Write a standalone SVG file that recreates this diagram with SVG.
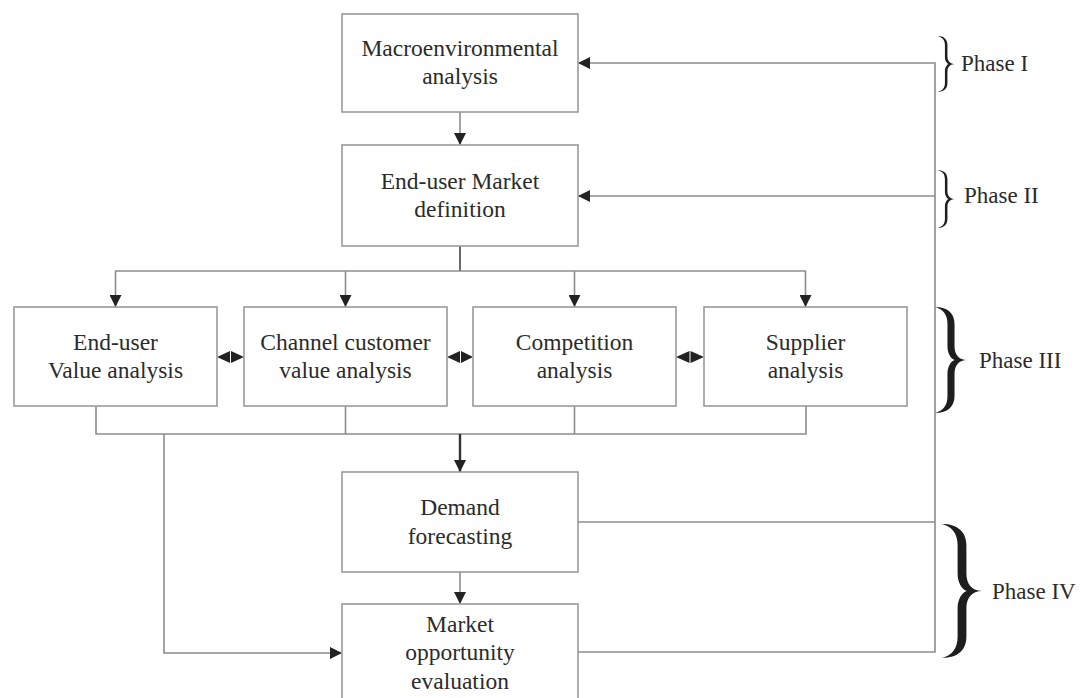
<svg xmlns="http://www.w3.org/2000/svg" xmlns:xlink="http://www.w3.org/1999/xlink" width="1082" height="698" viewBox="0 0 1082 698">
<style>
.box{fill:#fff;stroke:#9a9a9a;stroke-width:1.6}
.t{font-family:"Liberation Serif","Times New Roman",serif;font-size:23.5px;fill:#2b2b2b;text-anchor:middle}
.p{font-family:"Liberation Serif","Times New Roman",serif;font-size:23px;fill:#2b2b2b}
.ln{fill:none;stroke:#8c8c8c;stroke-width:1.6}
.dk{fill:none;stroke:#444;stroke-width:1.6}
.ah{fill:#222}
.br{fill:#1e1e1e}
</style>
<defs>
<marker id="arr" viewBox="0 0 12 12" refX="12" refY="6" markerWidth="12" markerHeight="12" markerUnits="userSpaceOnUse" orient="auto">
<path d="M0,0 L12,6 L0,12 Z" class="ah"/>
</marker>
<path id="brace" d="M0,0 C0.4,0 0.61,0.06 0.61,0.16 L0.61,0.37 C0.61,0.45 0.75,0.5 1,0.5 C0.75,0.5 0.61,0.55 0.61,0.63 L0.61,0.84 C0.61,0.94 0.4,1 0,1 C0.25,0.98 0.39,0.93 0.39,0.84 L0.39,0.63 C0.39,0.56 0.5,0.51 0.62,0.5 C0.5,0.49 0.39,0.44 0.39,0.37 L0.39,0.16 C0.39,0.07 0.25,0.02 0,0 Z"/>
<path id="braceThin" d="M0,0 C0.4,0 0.58,0.06 0.58,0.16 L0.58,0.37 C0.58,0.45 0.75,0.5 1,0.5 C0.75,0.5 0.58,0.55 0.58,0.63 L0.58,0.84 C0.58,0.94 0.4,1 0,1 C0.3,0.98 0.44,0.93 0.44,0.84 L0.44,0.63 C0.44,0.56 0.55,0.51 0.65,0.5 C0.55,0.49 0.44,0.44 0.44,0.37 L0.44,0.16 C0.44,0.07 0.3,0.02 0,0 Z"/>
</defs>

<g id="connectors">
  <line class="ln" x1="460" y1="112" x2="460" y2="145" marker-end="url(#arr)"/>
  <line class="dk" x1="460" y1="246" x2="460" y2="271"/>
  <line class="ln" x1="115" y1="271" x2="806" y2="271"/>
  <line class="ln" x1="115.5" y1="271" x2="115.5" y2="307" marker-end="url(#arr)"/>
  <line class="ln" x1="345.5" y1="271" x2="345.5" y2="307" marker-end="url(#arr)"/>
  <line class="ln" x1="574.5" y1="271" x2="574.5" y2="307" marker-end="url(#arr)"/>
  <line class="ln" x1="805.5" y1="271" x2="805.5" y2="307" marker-end="url(#arr)"/>
  <g class="ah">
    <path d="M217,357 L230,351 L230,363 Z"/><path d="M244,357 L231,351 L231,363 Z"/>
    <path d="M447,357 L460,351 L460,363 Z"/><path d="M473,357 L461,351 L461,363 Z"/>
    <path d="M676,357 L689.5,351 L689.5,363 Z"/><path d="M704,357 L690.5,351 L690.5,363 Z"/>
  </g>
  <polyline class="ln" points="96,406 96,434 806,434 806,406"/>
  <line class="ln" x1="345.5" y1="406" x2="345.5" y2="434"/>
  <line class="ln" x1="574.5" y1="406" x2="574.5" y2="434"/>
  <line x1="460" y1="434" x2="460" y2="472" stroke="#333" stroke-width="2.4" marker-end="url(#arr)"/>
  <line class="ln" x1="460" y1="572" x2="460" y2="604" marker-end="url(#arr)"/>
  <polyline class="ln" points="164,434 164,653 342,653" marker-end="url(#arr)"/>
  <polyline class="ln" points="578,522 935,522"/>
  <polyline class="ln" points="578,652 935,652 935,63 578,63" marker-end="url(#arr)"/>
  <line class="ln" x1="935" y1="196" x2="578" y2="196" marker-end="url(#arr)"/>
</g>

<g id="n-macro">
  <rect class="box" x="342" y="14" width="236" height="98"/>
  <text class="t" x="460" y="56">Macroenvironmental</text>
  <text class="t" x="460" y="84">analysis</text>
</g>
<g id="n-market-def">
  <rect class="box" x="342" y="145" width="236" height="101"/>
  <text class="t" x="460" y="189">End-user Market</text>
  <text class="t" x="460" y="217">definition</text>
</g>
<g id="n-enduser-value">
  <rect class="box" x="14" y="307" width="203" height="99"/>
  <text class="t" x="115.5" y="350">End-user</text>
  <text class="t" x="115.5" y="378">Value analysis</text>
</g>
<g id="n-channel">
  <rect class="box" x="244" y="307" width="203" height="99"/>
  <text class="t" x="345.5" y="350">Channel customer</text>
  <text class="t" x="345.5" y="378">value analysis</text>
</g>
<g id="n-competition">
  <rect class="box" x="473" y="307" width="203" height="99"/>
  <text class="t" x="574.5" y="350">Competition</text>
  <text class="t" x="574.5" y="378">analysis</text>
</g>
<g id="n-supplier">
  <rect class="box" x="704" y="307" width="203" height="99"/>
  <text class="t" x="805.5" y="350">Supplier</text>
  <text class="t" x="805.5" y="378">analysis</text>
</g>
<g id="n-demand">
  <rect class="box" x="342" y="472" width="236" height="100"/>
  <text class="t" x="460" y="515">Demand</text>
  <text class="t" x="460" y="544">forecasting</text>
</g>
<g id="n-opportunity">
  <rect class="box" x="342" y="604" width="236" height="110"/>
  <text class="t" x="460" y="632">Market</text>
  <text class="t" x="460" y="660">opportunity</text>
  <text class="t" x="460" y="689">evaluation</text>
</g>

<g id="phases">
  <use xlink:href="#braceThin" class="br" transform="translate(937,36) scale(18,56)"/>
  <text class="p" x="961" y="71">Phase I</text>
  <use xlink:href="#braceThin" class="br" transform="translate(937,170) scale(18,58)"/>
  <text class="p" x="964" y="203">Phase II</text>
  <use xlink:href="#brace" class="br" transform="translate(935,307) scale(32,106)"/>
  <text class="p" x="979" y="368">Phase III</text>
  <use xlink:href="#brace" class="br" transform="translate(942,524) scale(40,134)"/>
  <text class="p" x="992" y="599">Phase IV</text>
</g>
</svg>
